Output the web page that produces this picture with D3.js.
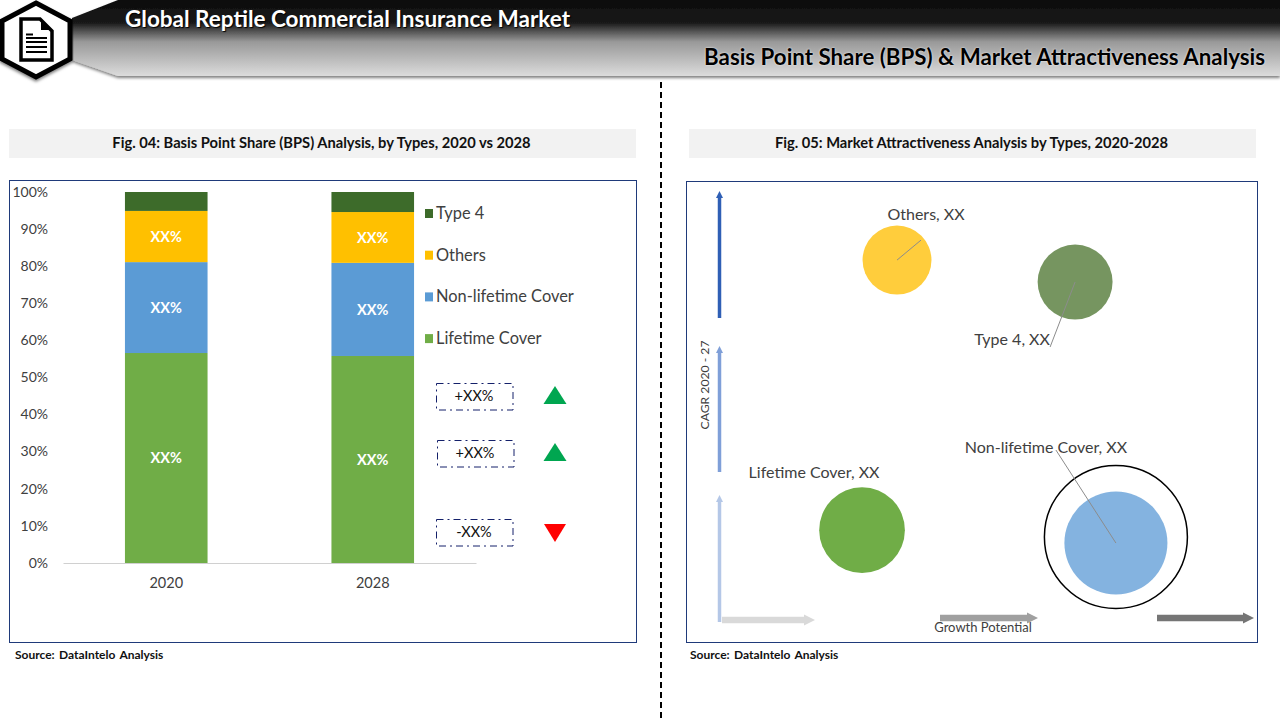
<!DOCTYPE html>
<html>
<head>
<meta charset="utf-8">
<script src="https://cdn.jsdelivr.net/npm/d3@7"></script>
<style>
body{margin:0;background:#fff;overflow:hidden}
text{font-family:Lato,"Open Sans",sans-serif}
</style>
</head>
<body>
<div id="chart"></div>
<script>
// bar chart data (fig 04)
var years=["2020","2028"];
var types=["Lifetime Cover","Non-lifetime Cover","Others","Type 4"];
var lifetime=[56.6,55.8];
var nonLifetime=[24.5,25.1];
var others=[13.8,13.7];
var type4=[5.1,5.4];
var barLabels=["XX%","XX%","XX%",""];
var colors=["#70ad47","#5b9bd5","#ffc000","#3d6b2a"];
var yTicks=[0,10,20,30,40,50,60,70,80,90,100];

// change boxes next to the legend
var changes=["+XX%","+XX%","-XX%"];
var changeDir=[1,1,-1];

// bubble chart data (fig 05)
var bubbleNames=["Others, XX","Type 4, XX","Lifetime Cover, XX","Non-lifetime Cover, XX"];
var growth=[33.4,67,26.8,74.7];
var cagr=[83.7,78.6,20.9,17.9];
var share=[33,39,51,73.7];
var bubbleColors=["#ffcd3c","#769560","#70ad47","#84b3e0"];

var svg=d3.select("#chart").append("svg").attr("width",1280).attr("height",720);
var defs=svg.append("defs");

var grad=defs.append("linearGradient").attr("id","head").attr("x1",0).attr("x2",0).attr("y1",0).attr("y2",1);
grad.append("stop").attr("offset","0%").attr("stop-color","#0c0c0c");
grad.append("stop").attr("offset","30%").attr("stop-color","#1a1a1a");
grad.append("stop").attr("offset","55%").attr("stop-color","#999999");
grad.append("stop").attr("offset","100%").attr("stop-color","#dcdcdc");

var blur=defs.append("filter").attr("id","soft").attr("x","-5%").attr("y","-20%").attr("width","110%").attr("height","150%");
blur.append("feDropShadow").attr("dx",0).attr("dy",2).attr("stdDeviation",1.5).attr("flood-color","#000").attr("flood-opacity",0.5);

// header band
svg.append("path")
   .attr("d","M72,18L118,0H1280V76H118L72,60Z")
   .attr("fill","url(#head)")
   .attr("filter","url(#soft)");

svg.append("path")
   .attr("d","M36,3L70,21V59L36,77L2,59V21Z")
   .attr("fill","#fff").attr("stroke","#000").attr("stroke-width",5)
   .attr("filter","url(#soft)");

// document icon
svg.append("path").attr("d","M21,19H40L52,31V60H21Z").attr("fill","#fff").attr("stroke","#000").attr("stroke-width",3.5);
svg.append("path").attr("d","M41,21L50,30H41Z").attr("fill","#000");
svg.append("line").attr("x1",26).attr("x2",33).attr("y1",34.5).attr("y2",34.5).attr("stroke","#000").attr("stroke-width",2);
svg.append("g").selectAll("line").data([38,42,47,52]).enter().append("line")
   .attr("x1",26).attr("x2",47).attr("y1",d=>d).attr("y2",d=>d)
   .attr("stroke","#000").attr("stroke-width",2);

svg.append("text").attr("x",125).attr("y",27)
   .attr("font-size",22.5).attr("font-weight",700).attr("fill","#fff")
   .style("text-shadow","1px 1px 1px #000")
   .text("Global Reptile Commercial Insurance Market");
svg.append("text").attr("x",1265).attr("y",65).attr("text-anchor","end")
   .attr("font-size",22.3).attr("font-weight",700).attr("fill","#000")
   .style("text-shadow","0 0 2px #fff")
   .text("Basis Point Share (BPS) & Market Attractiveness Analysis");

svg.append("line").attr("x1",661).attr("x2",661).attr("y1",82).attr("y2",720)
   .attr("stroke","#000").attr("stroke-width",2).attr("stroke-dasharray","6 4");

// figure title bars
var figs=[{x:9,w:627,t:"Fig. 04: Basis Point Share (BPS) Analysis, by Types, 2020 vs 2028"},
          {x:689,w:567,t:"Fig. 05: Market Attractiveness Analysis by Types, 2020-2028"}];
svg.append("g").selectAll("rect").data(figs).enter().append("rect")
   .attr("x",d=>d.x).attr("y",129).attr("width",d=>d.w).attr("height",29).attr("fill","#f2f2f2");
svg.append("g").selectAll("text").data(figs).enter().append("text")
   .attr("x",d=>d.x+d.w/2-1).attr("y",148).attr("text-anchor","middle")
   .attr("font-size",14.7).attr("font-weight",700).attr("fill","#111").text(d=>d.t);

// frames
svg.append("rect").attr("x",9.5).attr("y",180.5).attr("width",627).attr("height",462)
   .attr("fill","none").attr("stroke","#1f3a7a");
svg.append("rect").attr("x",686.5).attr("y",181.5).attr("width",571).attr("height",461)
   .attr("fill","none").attr("stroke","#1f3a7a");

svg.append("g").selectAll("text").data([15,690]).enter().append("text")
   .attr("x",d=>d).attr("y",659).attr("font-size",12).attr("font-weight",700).attr("fill","#111")
   .attr("word-spacing",1.5)
   .text("Source: DataIntelo Analysis");

// fig 04 stacked bars
var rows=years.map((y,i)=>({year:y,"Lifetime Cover":lifetime[i],"Non-lifetime Cover":nonLifetime[i],"Others":others[i],"Type 4":type4[i]}));
var stack=d3.stack().keys(types)(rows);
var x=d3.scaleBand().domain(years).range([63,476]).paddingInner(0.6).paddingOuter(0.3);
var y=d3.scaleLinear().domain([0,100]).range([563,192]);
var color=d3.scaleOrdinal().domain(types).range(colors);

var yAxis=d3.axisLeft(y).tickValues(yTicks).tickFormat(d=>d+"%").tickSize(0);
var gy=svg.append("g").attr("transform","translate(51,0)").call(yAxis);
gy.select(".domain").remove();
gy.selectAll("text").attr("font-size",14).attr("fill","#404040").attr("dy","0.3em");

var xAxis=d3.axisBottom(x).tickSize(0).tickPadding(15);
var gx=svg.append("g").attr("transform","translate(0,563)").call(xAxis);
gx.select(".domain").attr("stroke","#d0d0d0");
gx.selectAll("text").attr("font-size",14.5).attr("fill","#404040");

var layers=svg.append("g").selectAll("g").data(stack).enter().append("g")
   .attr("fill",d=>color(d.key));
layers.selectAll("rect").data(d=>d).enter().append("rect")
   .attr("x",d=>x(d.data.year))
   .attr("y",d=>y(d[1]))
   .attr("width",x.bandwidth())
   .attr("height",d=>y(d[0])-y(d[1]));
layers.selectAll("text").data((d,i)=>d.map(v=>({v:v,label:barLabels[i]}))).enter().append("text")
   .attr("x",d=>x(d.v.data.year)+x.bandwidth()/2)
   .attr("y",d=>(y(d.v[0])+y(d.v[1]))/2+(d.v.data.year=="2028"?6:5))
   .attr("text-anchor","middle").attr("font-size",14.5).attr("font-weight",700).attr("fill","#fff")
   .text(d=>d.label);

// legend, top entry is the last series
var legend=svg.append("g").selectAll("g").data(types.slice().reverse()).enter().append("g")
   .attr("transform",(d,i)=>"translate(425,"+(213+i*41.7)+")");
legend.append("rect").attr("y",-4).attr("width",8).attr("height",9).attr("fill",d=>color(d));
legend.append("text").attr("x",11).attr("y",6).attr("font-size",16.4).attr("fill","#404040").text(d=>d);

// change boxes
var boxLeft=[436,437,436];
var boxTop=[383,440,519];
var boxes=svg.append("g").selectAll("g").data(changes).enter().append("g")
   .attr("transform",(d,i)=>"translate("+boxLeft[i]+","+boxTop[i]+")");
boxes.append("rect").attr("x",0.5).attr("y",0.5).attr("width",76.5).attr("height",26.5)
   .attr("fill","none").attr("stroke","#14206a").attr("stroke-dasharray","7 4 2 4");
boxes.append("text").attr("x",38).attr("y",18).attr("text-anchor","middle")
   .attr("font-size",14.5).attr("fill","#111").text(d=>d);
boxes.append("path")
   .attr("transform",(d,i)=>"translate("+(555-boxLeft[i])+","+(changeDir[i]>0?12:14)+")")
   .attr("d",(d,i)=>changeDir[i]>0?"M0,-9L11.5,9H-11.5Z":"M-11,-9H11L0,9Z")
   .attr("fill",(d,i)=>changeDir[i]>0?"#00a650":"#ff0000");

// fig 05 bubbles
var gx2=d3.scaleLinear().domain([0,100]).range([720,1250]);
var gy2=d3.scaleLinear().domain([0,100]).range([620,190]);
var r=d3.scaleSqrt().domain([0,100]).range([0,60]);

// ring around the biggest bubble
svg.append("circle").attr("cx",gx2(growth[3])).attr("cy",gy2(cagr[3])-6).attr("r",71.5)
   .attr("fill","none").attr("stroke","#000").attr("stroke-width",1.5);

svg.append("g").selectAll("circle").data(bubbleNames).enter().append("circle")
   .attr("cx",(d,i)=>gx2(growth[i]))
   .attr("cy",(d,i)=>gy2(cagr[i]))
   .attr("r",(d,i)=>r(share[i]))
   .attr("fill",(d,i)=>bubbleColors[i]);

// label placement relative to the bubble, leader lines go to the label
var labelDx=[29,-63,-48,-70];
var labelDy=[-40,63,-52,-90];
var leader=[[24,-20],[-25,65],null,[-60,-93]];
svg.append("g").selectAll("line").data(bubbleNames).enter().filter((d,i)=>leader[i]).append("line")
   .attr("x1",d=>gx2(growth[bubbleNames.indexOf(d)]))
   .attr("y1",d=>gy2(cagr[bubbleNames.indexOf(d)]))
   .attr("x2",d=>gx2(growth[bubbleNames.indexOf(d)])+leader[bubbleNames.indexOf(d)][0])
   .attr("y2",d=>gy2(cagr[bubbleNames.indexOf(d)])+leader[bubbleNames.indexOf(d)][1])
   .attr("stroke","#8c8c8c").attr("stroke-width",1);
svg.append("g").selectAll("text").data(bubbleNames).enter().append("text")
   .attr("x",(d,i)=>gx2(growth[i])+labelDx[i])
   .attr("y",(d,i)=>gy2(cagr[i])+labelDy[i])
   .attr("text-anchor","middle").attr("font-size",16).attr("fill","#404040")
   .text(d=>d);

// axis arrows
var arrowColors=["#2f5fb5","#7f9fd8","#b4c7e7","#d9d9d9","#a0a0a0","#757575"];
defs.selectAll("marker").data(arrowColors).enter().append("marker")
   .attr("id",(d,i)=>"arr"+i)
   .attr("viewBox","0 -5 10 10").attr("refX",0).attr("refY",0)
   .attr("markerWidth",(d,i)=>i<3?2:1.7).attr("markerHeight",(d,i)=>i<3?2:1.7)
   .attr("orient","auto")
   .append("path").attr("d","M0,-5L10,0L0,5Z").attr("fill",d=>d);
var arrows=[[719.5,318,719.5,198,3.5,0],[719.5,472,719.5,353,3.5,1],[719.5,622,719.5,502,3.5,2],
            [722,620,804,620,6.5,3],[940,618,1027,618,6.5,4],[1157,618,1243,618,6.5,5]];
svg.append("g").selectAll("line").data(arrows).enter().append("line")
   .attr("x1",d=>d[0]).attr("y1",d=>d[1]).attr("x2",d=>d[2]).attr("y2",d=>d[3])
   .attr("stroke-width",d=>d[4])
   .attr("stroke",d=>arrowColors[d[5]])
   .attr("marker-end",d=>"url(#arr"+d[5]+")");

svg.append("text").attr("x",983).attr("y",632).attr("text-anchor","middle")
   .attr("font-size",13).attr("fill","#404040").text("Growth Potential");
svg.append("text").attr("transform","translate(709,385) rotate(-90)").attr("text-anchor","middle")
   .attr("font-size",12.2).attr("fill","#404040").text("CAGR 2020 - 27");
</script>
</body>
</html>
